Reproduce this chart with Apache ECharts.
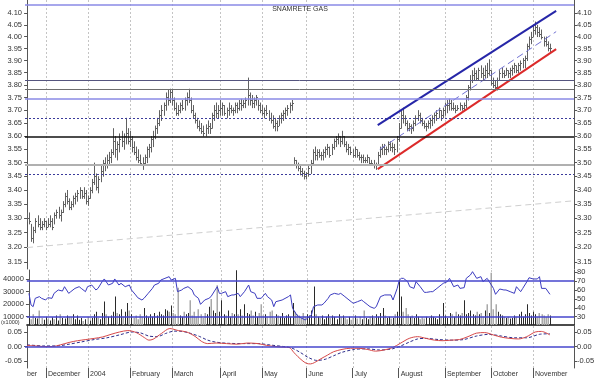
<!DOCTYPE html>
<html>
<head>
<meta charset="utf-8">
<script src="https://cdn.jsdelivr.net/npm/echarts@6/dist/echarts.min.js"></script>
<style>
  html, body { margin: 0; padding: 0; background: #fff; }
  #chart { width: 600px; height: 378px; }
</style>
</head>
<body>
<div id="chart"></div>
<script>
// Daily bars, index 0 = first visible session (mid November 2003).
const high = [
  3.32, 3.32, 3.28, 3.27, 3.30, 3.31, 3.30, 3.29, 3.30, 3.29,
  3.30, 3.31, 3.30, 3.32, 3.33, 3.34, 3.33, 3.36, 3.39, 3.40,
  3.37, 3.36, 3.38, 3.39, 3.40, 3.41, 3.40, 3.41, 3.40, 3.38,
  3.41, 3.44, 3.50, 3.46, 3.45, 3.49, 3.51, 3.52, 3.53, 3.54,
  3.55, 3.63, 3.60, 3.58, 3.61, 3.62, 3.61, 3.67, 3.63, 3.62,
  3.60, 3.58, 3.56, 3.55, 3.53, 3.52, 3.53, 3.56, 3.57, 3.60,
  3.62, 3.64, 3.67, 3.70, 3.72, 3.73, 3.77, 3.78, 3.785, 3.78,
  3.75, 3.73, 3.72, 3.73, 3.74, 3.75, 3.77, 3.785, 3.75, 3.72,
  3.69, 3.67, 3.66, 3.65, 3.64, 3.645, 3.66, 3.65, 3.69, 3.72,
  3.73, 3.72, 3.74, 3.73, 3.72, 3.71, 3.73, 3.72, 3.71, 3.73,
  3.73, 3.74, 3.745, 3.74, 3.75, 3.83, 3.77, 3.76, 3.75, 3.76,
  3.74, 3.73, 3.72, 3.71, 3.72, 3.70, 3.69, 3.68, 3.67, 3.66,
  3.68, 3.69, 3.70, 3.71, 3.72, 3.73, 3.74, 3.52, 3.51, 3.50,
  3.49, 3.48, 3.47, 3.465, 3.49, 3.51, 3.55, 3.56, 3.55, 3.55,
  3.54, 3.55, 3.56, 3.57, 3.56, 3.57, 3.59, 3.60, 3.61, 3.60,
  3.62, 3.60, 3.58, 3.57, 3.56, 3.55, 3.56, 3.55, 3.54, 3.53,
  3.53, 3.52, 3.53, 3.52, 3.51, 3.51, 3.50, 3.54, 3.56, 3.57,
  3.57, 3.56, 3.58, 3.58, 3.575, 3.57, 3.60, 3.65, 3.70, 3.71,
  3.68, 3.66, 3.65, 3.645, 3.66, 3.68, 3.70, 3.69, 3.67, 3.66,
  3.65, 3.66, 3.67, 3.68, 3.69, 3.70, 3.71, 3.70, 3.71, 3.73,
  3.74, 3.745, 3.74, 3.73, 3.72, 3.72, 3.73, 3.72, 3.73, 3.76,
  3.80, 3.84, 3.86, 3.87, 3.86, 3.87, 3.88, 3.87, 3.88, 3.89,
  3.905, 3.86, 3.83, 3.82, 3.83, 3.86, 3.87, 3.86, 3.87, 3.86,
  3.87, 3.88, 3.89, 3.88, 3.89, 3.90, 3.91, 3.92, 3.97, 4.00,
  4.02, 4.05, 4.064, 4.05, 4.04, 4.03, 4.00, 4.00, 3.98, 3.97
];
const low = [
  3.29, 3.28, 3.22, 3.215, 3.25, 3.27, 3.26, 3.26, 3.27, 3.26,
  3.27, 3.27, 3.26, 3.28, 3.30, 3.30, 3.29, 3.32, 3.34, 3.35,
  3.33, 3.33, 3.34, 3.35, 3.36, 3.37, 3.37, 3.37, 3.35, 3.345,
  3.37, 3.39, 3.42, 3.40, 3.39, 3.43, 3.45, 3.47, 3.48, 3.49,
  3.50, 3.53, 3.52, 3.51, 3.54, 3.56, 3.55, 3.57, 3.57, 3.56,
  3.54, 3.53, 3.51, 3.50, 3.49, 3.475, 3.49, 3.50, 3.52, 3.54,
  3.56, 3.59, 3.61, 3.64, 3.66, 3.68, 3.70, 3.72, 3.73, 3.72,
  3.70, 3.68, 3.68, 3.69, 3.70, 3.70, 3.72, 3.73, 3.69, 3.67,
  3.65, 3.63, 3.62, 3.61, 3.60, 3.60, 3.61, 3.61, 3.63, 3.66,
  3.67, 3.67, 3.68, 3.68, 3.68, 3.67, 3.68, 3.69, 3.68, 3.69,
  3.69, 3.70, 3.70, 3.71, 3.71, 3.72, 3.72, 3.71, 3.71, 3.72,
  3.70, 3.69, 3.68, 3.67, 3.68, 3.66, 3.65, 3.63, 3.62, 3.62,
  3.64, 3.65, 3.66, 3.67, 3.68, 3.69, 3.70, 3.49, 3.48, 3.47,
  3.455, 3.45, 3.44, 3.44, 3.45, 3.46, 3.49, 3.51, 3.51, 3.52,
  3.51, 3.51, 3.52, 3.53, 3.52, 3.53, 3.55, 3.56, 3.57, 3.56,
  3.57, 3.56, 3.54, 3.53, 3.53, 3.52, 3.52, 3.52, 3.51, 3.50,
  3.50, 3.50, 3.50, 3.49, 3.49, 3.48, 3.475, 3.49, 3.52, 3.53,
  3.53, 3.53, 3.54, 3.545, 3.54, 3.53, 3.54, 3.58, 3.63, 3.65,
  3.64, 3.62, 3.62, 3.61, 3.62, 3.64, 3.66, 3.65, 3.64, 3.63,
  3.62, 3.63, 3.63, 3.64, 3.65, 3.66, 3.67, 3.66, 3.67, 3.68,
  3.69, 3.70, 3.70, 3.70, 3.69, 3.70, 3.70, 3.70, 3.70, 3.71,
  3.74, 3.78, 3.81, 3.82, 3.82, 3.82, 3.83, 3.82, 3.83, 3.83,
  3.84, 3.80, 3.79, 3.78, 3.78, 3.82, 3.83, 3.83, 3.84, 3.83,
  3.83, 3.84, 3.85, 3.85, 3.85, 3.86, 3.87, 3.87, 3.90, 3.95,
  3.97, 4.00, 4.01, 4.00, 4.00, 3.99, 3.96, 3.96, 3.94, 3.935
];
const close = [
  3.30, 3.29, 3.23, 3.26, 3.29, 3.28, 3.27, 3.28, 3.29, 3.27,
  3.28, 3.29, 3.27, 3.31, 3.32, 3.31, 3.32, 3.35, 3.38, 3.36,
  3.34, 3.35, 3.37, 3.38, 3.39, 3.40, 3.38, 3.39, 3.36, 3.37,
  3.40, 3.43, 3.45, 3.41, 3.44, 3.47, 3.50, 3.49, 3.51, 3.52,
  3.54, 3.58, 3.55, 3.57, 3.59, 3.58, 3.60, 3.61, 3.58, 3.59,
  3.56, 3.54, 3.52, 3.51, 3.50, 3.50, 3.52, 3.55, 3.56, 3.59,
  3.60, 3.63, 3.65, 3.68, 3.70, 3.72, 3.75, 3.74, 3.77, 3.74,
  3.71, 3.69, 3.70, 3.72, 3.71, 3.74, 3.75, 3.74, 3.70, 3.68,
  3.66, 3.64, 3.63, 3.62, 3.61, 3.63, 3.64, 3.63, 3.68, 3.70,
  3.69, 3.70, 3.71, 3.72, 3.69, 3.70, 3.71, 3.70, 3.70, 3.72,
  3.71, 3.73, 3.72, 3.73, 3.74, 3.76, 3.74, 3.73, 3.74, 3.75,
  3.72, 3.70, 3.69, 3.70, 3.69, 3.67, 3.66, 3.64, 3.65, 3.64,
  3.67, 3.68, 3.69, 3.70, 3.71, 3.72, 3.73, 3.51, 3.49, 3.48,
  3.47, 3.46, 3.45, 3.46, 3.48, 3.50, 3.54, 3.53, 3.54, 3.53,
  3.53, 3.54, 3.55, 3.56, 3.53, 3.56, 3.58, 3.59, 3.60, 3.58,
  3.60, 3.57, 3.55, 3.56, 3.54, 3.53, 3.55, 3.53, 3.52, 3.52,
  3.51, 3.51, 3.52, 3.50, 3.50, 3.49, 3.49, 3.53, 3.55, 3.56,
  3.55, 3.55, 3.57, 3.56, 3.56, 3.55, 3.59, 3.63, 3.68, 3.67,
  3.65, 3.63, 3.64, 3.63, 3.65, 3.67, 3.68, 3.66, 3.65, 3.64,
  3.64, 3.65, 3.66, 3.67, 3.68, 3.69, 3.70, 3.68, 3.70, 3.72,
  3.72, 3.73, 3.71, 3.71, 3.70, 3.71, 3.72, 3.71, 3.72, 3.75,
  3.79, 3.82, 3.84, 3.85, 3.83, 3.86, 3.85, 3.84, 3.86, 3.85,
  3.86, 3.81, 3.80, 3.79, 3.82, 3.85, 3.85, 3.84, 3.86, 3.85,
  3.86, 3.87, 3.88, 3.86, 3.88, 3.89, 3.90, 3.91, 3.96, 3.99,
  4.00, 4.03, 4.04, 4.02, 4.01, 4.00, 3.98, 3.97, 3.95, 3.95
];
// volume, in thousands of shares
const volume = [
  9000, 8000, 12000, 9000, 8500, 15000, 9000, 7500, 10000, 8000,
  7000, 9500, 8000, 11000, 7000, 12000, 9000, 8500, 11000, 10000,
  9500, 12000, 8000, 11000, 7500, 9000, 6500, 8000, 10000, 7000,
  9000, 12000, 14000, 9000, 8000, 13000, 22000, 12000, 10000, 11000,
  14000, 26000, 13000, 12000, 16000, 10000, 14000, 21000, 15000, 12000,
  9000, 11000, 8000, 12000, 10000, 17000, 11000, 9500, 12000, 10000,
  13000, 11000, 14000, 12000, 11000, 16000, 15000, 14000, 19000, 13000,
  12000, 33000, 11000, 10000, 14000, 12000, 13000, 23000, 11000, 14000,
  10000, 16000, 12000, 9000, 13000, 12000, 18000, 24000, 15000, 13000,
  35000, 14000, 23000, 12000, 11000, 15000, 10000, 13000, 12000, 47000,
  12000, 16000, 11000, 20000, 13000, 12000, 15000, 11000, 14000, 10000,
  13000, 20000, 11000, 12000, 10000, 14000, 15000, 9000, 12000, 11000,
  10000, 13000, 9000, 11000, 12000, 10000, 21000, 14000, 12000, 11000,
  9000, 13000, 10000, 12000, 11000, 15000, 34000, 12000, 10000, 9000,
  11000, 8000, 10000, 12000, 9000, 11000, 10000, 8000, 12000, 9500,
  11000, 9000, 8000, 10000, 7500, 9000, 11000, 8500, 10000, 8000,
  15000, 9000, 8000, 10000, 11000, 9000, 12000, 10000, 13000, 17000,
  11000, 9000, 10000, 8500, 9000, 12000, 14000, 39000, 26000, 14000,
  17000, 12000, 10000, 11000, 9000, 12000, 10000, 8000, 9500, 8500,
  10000, 9000, 11000, 10000, 9000, 8000, 12000, 10000, 21000, 11000,
  9000, 13000, 12000, 10000, 14000, 12000, 11000, 13000, 23000, 12000,
  13000, 15000, 12000, 11000, 14000, 12000, 13000, 10000, 15000, 20000,
  13000, 45000, 16000, 20000, 14000, 12000, 11000, 10000, 9000, 10000,
  8500, 9000, 11000, 10000, 12000, 14000, 10000, 12000, 20000, 13000,
  11000, 14000, 12000, 10000, 13000, 12000, 11000, 10000, 12000, 11000
];
// oscillator line of the volume panel, [session, value]
const rsi = [
  [0, 56.3], [1, 43.2], [2, 41.3], [3, 50.7], [5, 52.6], [6, 50.7], [8, 48.8], [9, 51.4],
  [11, 50.7], [12, 56.3], [14, 60.1], [16, 58.9], [17, 63.8], [19, 56.3], [20, 58.2],
  [22, 61.9], [24, 63.8], [25, 61.9], [27, 58.2], [28, 63.8], [30, 65.7], [32, 60.1],
  [33, 61.9], [35, 69.5], [36, 72.5], [38, 65.7], [40, 67.6], [41, 72.5], [43, 65.7],
  [44, 67.6], [46, 63.8], [48, 65.7], [49, 60.1], [51, 54.5], [52, 51.4], [54, 48.8],
  [55, 50.7], [57, 56.3], [59, 61.9], [60, 65.7], [62, 67.6], [63, 71.3], [65, 73.2],
  [67, 75.1], [68, 71.3], [70, 73.2], [71, 58.2], [73, 60.1], [74, 61.9], [76, 63.8],
  [78, 60.1], [79, 54.5], [81, 50.7], [82, 43.9], [84, 48.8], [86, 50.7], [87, 52.6],
  [89, 60.1], [90, 63.8], [91, 56.3], [92, 56.3], [94, 58.2], [95, 52.6], [97, 54.5],
  [98, 54.5], [100, 56.3], [101, 52.6], [103, 58.2], [105, 65.7], [106, 58.2], [108, 56.3],
  [109, 50.7], [111, 50.7], [113, 56.3], [114, 52.6], [116, 48.8], [117, 41.3], [118, 46.9],
  [121, 48.8], [124, 52.6], [125, 54.5], [126, 39.4], [128, 31.9], [129, 30.0], [132, 26.3],
  [133, 28.1], [135, 31.9], [136, 41.3], [138, 43.2], [140, 43.2], [141, 45.1], [143, 50.7],
  [144, 54.5], [146, 56.3], [148, 55.2], [149, 56.3], [151, 52.6], [152, 50.7], [154, 46.9],
  [155, 45.1], [157, 46.9], [159, 48.8], [160, 46.9], [162, 43.2], [163, 41.3], [165, 39.4],
  [166, 41.3], [168, 52.6], [170, 54.5], [173, 54.5], [174, 48.8], [176, 61.9], [177, 71.3],
  [178, 73.2], [179, 73.2], [181, 69.5], [182, 63.8], [184, 61.9], [185, 69.5], [187, 63.8],
  [189, 57.4], [190, 57.4], [192, 58.2], [193, 58.2], [195, 61.9], [197, 65.7], [198, 67.6],
  [200, 69.5], [201, 73.2], [203, 63.8], [205, 65.7], [206, 61.9], [208, 62.7], [209, 73.2],
  [211, 77.0], [212, 80.7], [214, 73.2], [216, 75.1], [217, 69.5], [219, 73.2], [220, 69.5],
  [222, 61.9], [223, 55.2], [225, 61.2], [227, 60.1], [228, 60.1], [230, 58.2], [232, 56.3],
  [233, 63.8], [235, 58.2], [236, 61.9], [238, 69.5], [239, 73.9], [241, 72.5], [243, 72.5],
  [244, 75.1], [245, 61.9], [247, 61.9], [249, 55.2]
];
// bottom panel, [session, value]
const macd = [
  [0, 0.004], [4, 0.002], [8, 0.0], [12, 0.0], [16, 0.006], [20, 0.014], [24, 0.020],
  [28, 0.024], [32, 0.028], [36, 0.033], [40, 0.042], [44, 0.050], [48, 0.055], [52, 0.048],
  [56, 0.030], [58, 0.022], [60, 0.025], [64, 0.045], [68, 0.062], [72, 0.055], [76, 0.050],
  [80, 0.035], [83, 0.018], [86, 0.010], [90, 0.012], [95, 0.010], [100, 0.008], [105, 0.012],
  [110, 0.010], [114, 0.004], [118, 0.0], [122, -0.002], [125, -0.004], [127, -0.020],
  [129, -0.035], [131, -0.048], [133, -0.058], [135, -0.060], [137, -0.055], [140, -0.042],
  [143, -0.030], [146, -0.018], [150, -0.010], [154, -0.006], [158, -0.006], [162, -0.010],
  [166, -0.016], [170, -0.012], [174, -0.004], [178, 0.012], [182, 0.028], [186, 0.034],
  [190, 0.028], [194, 0.022], [198, 0.020], [202, 0.022], [206, 0.024], [210, 0.034],
  [214, 0.046], [218, 0.048], [222, 0.040], [226, 0.032], [230, 0.028], [234, 0.026],
  [238, 0.034], [242, 0.050], [245, 0.052], [249, 0.040]
];
const signal = [
  [0, 0.006], [8, 0.002], [14, 0.002], [20, 0.008], [26, 0.016], [32, 0.024], [38, 0.030],
  [44, 0.040], [50, 0.050], [54, 0.047], [58, 0.036], [62, 0.034], [66, 0.045], [70, 0.053],
  [74, 0.052], [78, 0.045], [82, 0.035], [86, 0.022], [90, 0.015], [96, 0.011], [104, 0.010],
  [110, 0.010], [116, 0.005], [122, 0.0], [126, -0.005], [130, -0.020], [134, -0.038],
  [138, -0.048], [142, -0.044], [146, -0.032], [150, -0.020], [156, -0.010], [162, -0.008],
  [168, -0.012], [174, -0.008], [178, 0.002], [182, 0.015], [186, 0.026], [190, 0.028],
  [196, 0.024], [202, 0.022], [208, 0.024], [214, 0.036], [220, 0.042], [226, 0.036],
  [232, 0.030], [238, 0.030], [244, 0.042], [249, 0.044]
];

// drawn levels and trend lines (prices)
const levels = [4.146, 3.831, 3.780, 3.739, 3.661, 3.600, 3.500, 3.443];
const channelHigh = [[167, 3.642], [252, 4.110]];
const channelMid = [[168, 3.550], [252, 4.021]];
const channelLow = [[167, 3.476], [252, 3.947]];
const longTrend = [[0, 3.199], [260, 3.361]];
const rsiLevels = [70, 30];

// axis ticks and labels
const monthPos = [-1, 9, 29, 49, 69, 92, 112, 133, 155, 177, 199, 221, 241];
const monthLabels = ['ber', 'December', '2004', 'February', 'March', 'April', 'May',
  'June', 'July', 'August', 'September', 'October', 'November'];
const priceTicks = [3.15, 3.20, 3.25, 3.30, 3.35, 3.40, 3.45, 3.50, 3.55, 3.60, 3.65,
  3.70, 3.75, 3.80, 3.85, 3.90, 3.95, 4.00, 4.05, 4.10];
const volTicks = [10000, 20000, 30000, 40000];
const rsiTicks = [30, 40, 50, 60, 70, 80];
const macdTicks = [-0.05, 0, 0.05];

// --- styling ------------------------------------------------------------
const FONT = '"Liberation Sans", Arial, sans-serif';
const TXT = { color: '#333', fontSize: 7.5, fontFamily: FONT };
const AXC = '#555';
const levelStyles = [
  { color: '#8a8ae6', width: 1.5, type: 'solid' },
  { color: '#55557f', width: 1, type: 'solid' },
  { color: '#6e6e6e', width: 1, type: 'solid' },
  { color: '#8a8ae6', width: 1.5, type: 'solid' },
  { color: '#3a3a9a', width: 1, type: [2, 2] },
  { color: '#111111', width: 1.5, type: 'solid' },
  { color: '#b0b0b0', width: 2, type: 'solid' },
  { color: '#3a3a9a', width: 1, type: [2, 2] }
];

const L = Math.log;
const priceMin = L(3.127), priceMax = L(4.158);
const X_MIN = -1, X_MAX = 260.5;
const VOL_MIN = 3400, VOL_MAX = 47160;
const RSI_MIN = 20.65, RSI_MAX = 82.6;
const MACD_MIN = -0.0741, MACD_MAX = 0.0707;

function xAxis(gridIndex, bottom) {
  return {
    type: 'value', gridIndex, min: X_MIN, max: X_MAX,
    axisLine: { show: gridIndex === 1, onZero: false, lineStyle: { color: '#111', width: 1.5 } },
    axisTick: bottom
      ? { show: true, customValues: monthPos.slice(1), length: 11, lineStyle: { color: AXC } }
      : { show: false },
    axisLabel: bottom
      ? { show: true, customValues: monthPos, align: 'left', margin: 3, padding: [0, 0, 0, 2],
          formatter: v => monthLabels[monthPos.indexOf(v)] || '', ...TXT, fontSize: 7 }
      : { show: false },
    splitLine: { show: false }
  };
}

function yAxis(gridIndex, position, min, max, ticks, fmt) {
  return {
    type: 'value', gridIndex, position, min, max,
    axisLine: { show: true, lineStyle: { color: AXC } },
    axisTick: { show: true, customValues: ticks, length: 3, lineStyle: { color: AXC } },
    axisLabel: { customValues: ticks, formatter: fmt, margin: 3, ...TXT },
    splitLine: { show: false }
  };
}

// vertical month separators in each panel
function monthGrid(xi, yi) {
  return {
    type: 'custom', xAxisIndex: xi, yAxisIndex: yi, silent: true, z: 0,
    data: monthPos.slice(1).map(v => [v]),
    renderItem(params, api) {
      const cs = params.coordSys;
      const x = Math.round(api.coord([api.value(0), 0])[0]) + 0.5;
      return {
        type: 'line',
        shape: { x1: x, y1: cs.y, x2: x, y2: cs.y + cs.height },
        style: { stroke: '#c4c4c4', lineWidth: 1, lineDash: [2, 2] }
      };
    }
  };
}

const ohlc = high.map((h, i) => [i, L(h), L(low[i]), L(close[i])]);
const seg = pts => pts.map(p => [p[0], L(p[1])]);

const option = {
  animation: false,
  backgroundColor: '#fff',
  title: {
    text: 'SNAMRETE GAS', left: 'center', top: 1,
    textStyle: { color: '#333', fontSize: 7, fontWeight: 'normal', fontFamily: FONT }
  },
  grid: [
    { left: 25, right: 26, top: 0, height: 269 },
    { left: 25, right: 26, top: 270, height: 55 },
    { left: 25, right: 26, top: 326, height: 42 }
  ],
  xAxis: [xAxis(0, false), xAxis(1, false), xAxis(2, true)],
  yAxis: [
    yAxis(0, 'left', priceMin, priceMax, priceTicks.map(L), v => Math.exp(v).toFixed(2)),
    yAxis(0, 'right', priceMin, priceMax, priceTicks.map(L), v => Math.exp(v).toFixed(2)),
    yAxis(1, 'left', VOL_MIN, VOL_MAX, volTicks, v => String(v)),
    yAxis(1, 'right', RSI_MIN, RSI_MAX, rsiTicks, v => String(v)),
    yAxis(2, 'left', MACD_MIN, MACD_MAX, macdTicks, v => v.toFixed(2)),
    yAxis(2, 'right', MACD_MIN, MACD_MAX, macdTicks, v => v.toFixed(2))
  ],
  series: [
    monthGrid(0, 0), monthGrid(1, 2), monthGrid(2, 4),
    {
      type: 'line', xAxisIndex: 0, yAxisIndex: 0, data: seg(longTrend), symbol: 'none',
      lineStyle: { color: '#cfcfcf', width: 1, type: [6, 4] }, z: 1
    },
    {
      type: 'custom', xAxisIndex: 0, yAxisIndex: 0, z: 3,
      data: ohlc,
      encode: { x: 0, y: [1, 2, 3] },
      renderItem(params, api) {
        const i = api.value(0);
        const hi = api.coord([i, api.value(1)]);
        const lo = api.coord([i, api.value(2)]);
        const cl = api.coord([i, api.value(3)]);
        const x = Math.round(hi[0]) + 0.5;
        const yc = Math.round(cl[1]) + 0.5;
        return {
          type: 'group',
          children: [
            { type: 'line', shape: { x1: x, y1: hi[1], x2: x, y2: lo[1] + 0.5 },
              style: { stroke: '#616161', lineWidth: 1 } },
            { type: 'line', shape: { x1: x, y1: yc, x2: x + 1.5, y2: yc },
              style: { stroke: '#616161', lineWidth: 1 } }
          ]
        };
      },
      markLine: {
        silent: true, symbol: 'none', label: { show: false },
        data: levels.map((p, k) => ({ yAxis: L(p), lineStyle: levelStyles[k] }))
      }
    },
    {
      type: 'line', xAxisIndex: 0, yAxisIndex: 0, data: seg(channelHigh), symbol: 'none', z: 4,
      lineStyle: { color: '#2626a8', width: 2 }
    },
    {
      type: 'line', xAxisIndex: 0, yAxisIndex: 0, data: seg(channelMid), symbol: 'none', z: 4,
      lineStyle: { color: '#7272d2', width: 1, type: [7, 4] }
    },
    {
      type: 'line', xAxisIndex: 0, yAxisIndex: 0, data: seg(channelLow), symbol: 'none', z: 4,
      lineStyle: { color: '#dc2a2a', width: 2 }
    },
    {
      type: 'custom', xAxisIndex: 1, yAxisIndex: 2, z: 2,
      data: volume.map((v, i) => [i, v]),
      renderItem(params, api) {
        const i = api.value(0);
        const top = api.coord([i, api.value(1)]);
        const base = api.coord([i, VOL_MIN]);
        const up = i === 0 || close[i] >= close[i - 1];
        const x = Math.round(top[0]);
        return {
          type: 'rect',
          shape: { x: up ? x : x - 0.5, y: top[1], width: up ? 1 : 1.5, height: base[1] - top[1] },
          style: { fill: up ? '#2a2a2a' : '#a8a8a8' }
        };
      },
      markLine: {
        silent: true, symbol: 'none', label: { show: false },
        data: rsiLevels.map(v => ({
          yAxis: VOL_MIN + (v - RSI_MIN) / (RSI_MAX - RSI_MIN) * (VOL_MAX - VOL_MIN)
        })),
        lineStyle: { color: '#4646cc', width: 1.5, type: 'solid' }
      }
    },
    {
      type: 'line', xAxisIndex: 1, yAxisIndex: 3, data: rsi, symbol: 'none', z: 3,
      lineStyle: { color: '#3c3cc0', width: 1 }
    },
    {
      type: 'line', xAxisIndex: 2, yAxisIndex: 4, data: signal, symbol: 'none', smooth: 0.3, z: 3,
      lineStyle: { color: '#2e2e8c', width: 1, type: [3, 2] },
      markLine: {
        silent: true, symbol: 'none', label: { show: false },
        data: [{ yAxis: 0 }],
        lineStyle: { color: '#4646cc', width: 1.5, type: 'solid' }
      }
    },
    {
      type: 'line', xAxisIndex: 2, yAxisIndex: 4, data: macd, symbol: 'none', smooth: 0.3, z: 3,
      lineStyle: { color: '#d64848', width: 1 }
    }
  ],
  graphic: [
    {
      type: 'text', left: 1, top: 319,
      style: { text: '(x1000)', fill: '#333', fontSize: 5.5, fontFamily: FONT }
    }
  ]
};

const chart = echarts.init(document.getElementById('chart'), null, { renderer: 'canvas' });
chart.setOption(option);
</script>
</body>
</html>
